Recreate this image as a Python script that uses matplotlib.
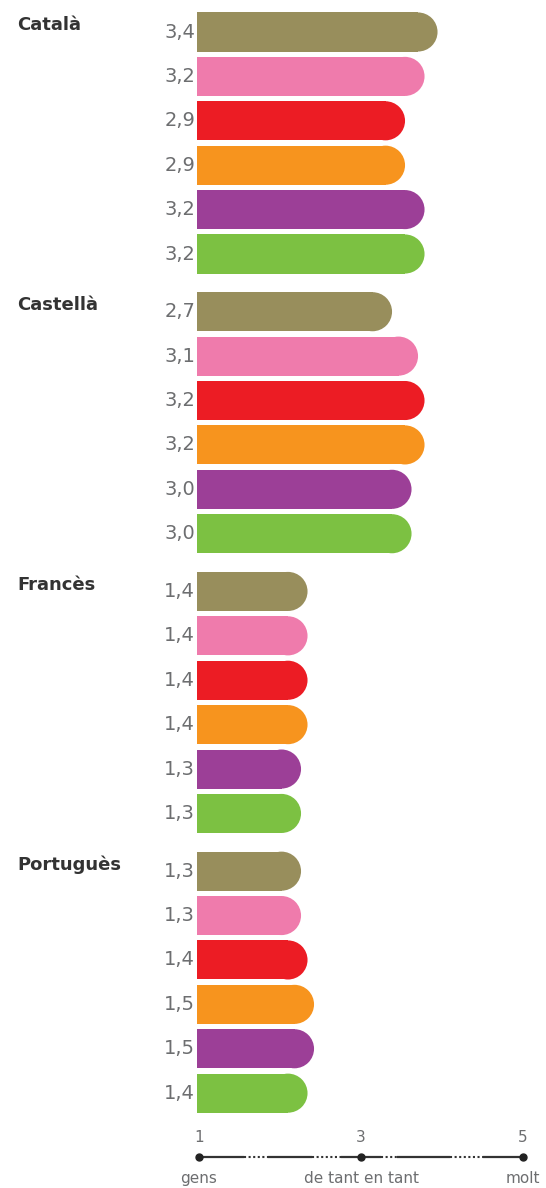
import matplotlib.pyplot as plt
from matplotlib.patches import Rectangle, Ellipse
from matplotlib.transforms import blended_transform_factory, offset_copy

plt.rcParams.update({"font.family": ["DejaVu Sans"]})

groups = ["Català", "Castellà", "Francès", "Portuguès"]
colors = ["#988e5c", "#ef7bac", "#ec1c24", "#f7941e", "#9c3f97", "#7cc142"]
values = [
    [3.4, 3.2, 2.9, 2.9, 3.2, 3.2],
    [2.7, 3.1, 3.2, 3.2, 3.0, 3.0],
    [1.4, 1.4, 1.4, 1.4, 1.3, 1.3],
    [1.3, 1.3, 1.4, 1.5, 1.5, 1.4],
]
scale_ticks = [1, 3, 5]
scale_labels = ["gens", "de tant en tant", "molt"]

W, H = 546, 1188
fig = plt.figure(figsize=(W / 100, H / 100), dpi=100)

# main axes: x=0 at bar start, 65 px per unit; y in bar pitches (44.4 px)
px_x, px_y = 65.0, 44.4
ax = fig.add_axes([197 / W, 1 - 1120 / H, (W - 197) / W, 1120 / H])
ax.set_xlim(0, (W - 197) / px_x)
ax.set_ylim(-32 / px_y + 1120 / px_y, -32 / px_y)
ax.axis("off")

bar_h = 0.88
cap_rx = (bar_h * px_y / 2) / px_x  # radius in x data units
grey = "#6d6e70"
lbl_tr = blended_transform_factory(fig.transFigure, ax.transData)

for g, (name, vals) in enumerate(zip(groups, values)):
    base = g * 6.3
    ax.text(17 / W, base - 0.15, name, transform=lbl_tr, ha="left", va="center",
            fontsize=13, fontweight="bold", color="#333333")
    for i, (v, c) in enumerate(zip(vals, colors)):
        y = base + i
        ax.add_patch(Rectangle((0, y - bar_h / 2), v, bar_h, color=c, lw=0))
        ax.add_patch(Ellipse((v, y), 2 * cap_rx, bar_h, color=c, lw=0))
        ax.text(0, y, f"{v:.1f}".replace(".", ","), ha="right", va="center",
                fontsize=14, color=grey,
                transform=offset_copy(ax.transData, fig=fig, x=-2, y=0, units="dots"))

# bottom scale
ax2 = fig.add_axes([199 / W, 0, 324 / W, 63 / H])
ax2.set_xlim(1, 5)
ax2.set_ylim(-1, 1)
ax2.axis("off")
solid = [(1, 1.55), (1.85, 2.4), (2.75, 3.25), (3.45, 4.1), (4.5, 5)]
dotted = [(1.55, 1.85), (2.4, 2.75), (3.25, 3.45), (4.1, 4.5)]
for a, b in solid:
    ax2.plot([a, b], [0, 0], color="#333333", lw=1.6, solid_capstyle="butt", clip_on=False)
for a, b in dotted:
    ax2.plot([a, b], [0, 0], color="#333333", lw=1.5, ls=(0, (1, 1.2)), clip_on=False)
ax2.plot(scale_ticks, [0] * len(scale_ticks), "o", color="#222222", ms=5, clip_on=False)
for t, lab in zip(scale_ticks, scale_labels):
    ax2.text(t, 0.6, str(t), ha="center", va="center", fontsize=11, color=grey)
    ax2.text(t, -0.7, lab, ha="center", va="center", fontsize=11, color=grey)

fig.savefig("out.png", dpi=100)
